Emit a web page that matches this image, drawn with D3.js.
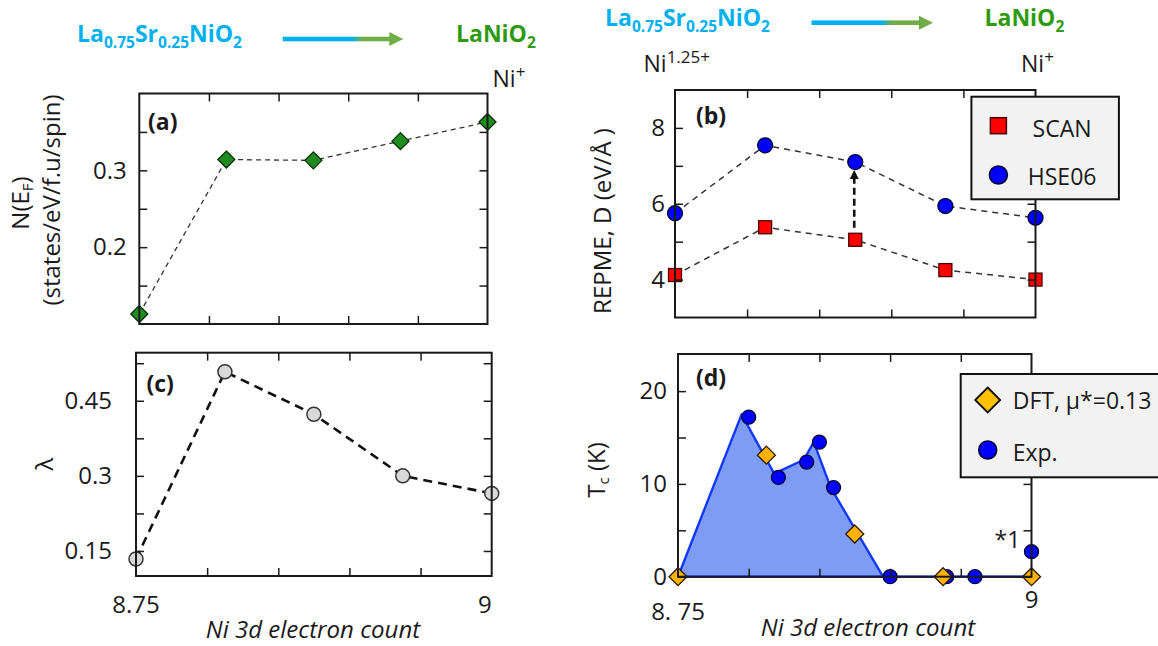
<!DOCTYPE html>
<html>
<head>
<meta charset="utf-8">
<script src="https://cdn.jsdelivr.net/npm/d3@7"></script>
<style>
  body { margin: 0; background: #fff; }
  svg { display: block; font-family: "Open Sans", sans-serif; }
</style>
</head>
<body>
<div id="chart"></div>
<script>
// values
const electronCount = [8.75, 8.8125, 8.875, 8.9375, 9];
const dosEF = [0.113, 0.314, 0.313, 0.338, 0.363];
const repmeSCAN = [4.12, 5.38, 5.05, 4.25, 4.0];
const repmeHSE = [5.75, 7.54, 7.1, 5.94, 5.63];
const lambdaVals = [0.134, 0.508, 0.423, 0.30, 0.265];
const tcDFT = [0, 13.1, 4.6, 0, 0];
const expCount = [8.80, 8.821, 8.841, 8.850, 8.860, 8.90, 8.94, 8.96, 9.0];
const tcExp = [17.2, 10.7, 12.35, 14.5, 9.6, 0, 0, 0, 2.7];
const domeCount = [8.75, 8.795, 8.818, 8.839, 8.846, 8.858, 8.895, 9.0];
const domeTc = [0, 17.5, 11.1, 12.6, 14.5, 9.6, 0, 0];
const xTicks = [8.8, 8.85, 8.9, 8.95];

const W = 1158, H = 646;
const ink = "#1a1a1a";

const svg = d3.select("#chart").append("svg")
  .attr("width", W)
  .attr("height", H);

const grad = svg.append("defs").append("linearGradient")
  .attr("id", "arrowGrad")
  .attr("x1", "0%").attr("x2", "100%").attr("y1", "0%").attr("y2", "0%");
grad.append("stop").attr("offset", 0.64).attr("stop-color", "#00b0f0");
grad.append("stop").attr("offset", 0.74).attr("stop-color", "#70ad47");

// ---------- header ----------
function formula(x, y, parts, color) {
  const t = svg.append("text")
    .attr("x", x).attr("y", y)
    .attr("fill", color)
    .attr("font-weight", 700)
    .attr("font-size", 23);
  let wasSub = false;
  parts.forEach(([s, sub]) => {
    const dy = sub && !wasSub ? 6 : (!sub && wasSub ? -6 : 0);
    t.append("tspan").attr("dy", dy).attr("font-size", sub ? 15.5 : 23).text(s);
    wasSub = sub;
  });
}
function arrow(x0, x1, y) {
  svg.append("rect")
    .attr("x", x0).attr("y", y - 2.3)
    .attr("width", x1 - x0 - 13).attr("height", 4.6)
    .attr("fill", "url(#arrowGrad)");
  svg.append("path")
    .attr("d", `M${x1 - 14},${y - 7}L${x1},${y}L${x1 - 14},${y + 7}Z`)
    .attr("fill", "#70ad47");
}
function ion(x, y, sup) {
  const t = svg.append("text").attr("x", x).attr("y", y).attr("font-size", 23).attr("fill", ink);
  t.append("tspan").text("Ni");
  t.append("tspan").attr("dy", -9).attr("font-size", 17).text(sup);
}
const doped = [["La", 0], ["0.75", 1], ["Sr", 0], ["0.25", 1], ["NiO", 0], ["2", 1]];
const parent = [["LaNiO", 0], ["2", 1]];

formula(77, 42, doped, "#00b0f0");
arrow(282.7, 403.3, 39);
formula(456, 42, parent, "#2e9a10");
formula(605, 26, doped, "#00b0f0");
arrow(811.5, 933, 22.7);
formula(984.5, 26, parent, "#2e9a10");
ion(492.5, 87, "+");
ion(643.5, 72, "1.25+");
ion(1021, 72, "+");

// ---------- panels ----------
function panel(px, py, yDomain) {
  return {
    x: d3.scaleLinear().domain([8.75, 9]).range(px),
    y: d3.scaleLinear().domain(yDomain).range([py[1], py[0]]),
    g: svg.append("g")
  };
}
function axes(p, yTicks, yLabels, pad) {
  const [x0, x1] = p.x.range();
  const [y1, y0] = p.y.range();
  const style = g => {
    g.select(".domain").remove();
    g.selectAll("line").attr("stroke", ink).attr("stroke-width", 1.5);
    g.selectAll("text").attr("fill", ink);
    g.attr("font-family", null).attr("font-size", 24);
  };
  const ax = p.g.append("g");
  ax.append("g").attr("transform", `translate(${x0},0)`)
    .call(d3.axisLeft(p.y).tickValues(yTicks).tickSize(-8).tickPadding(pad)
      .tickFormat(d => yLabels.includes(d) ? String(d) : ""))
    .call(style);
  ax.append("g").attr("transform", `translate(${x1},0)`)
    .call(d3.axisRight(p.y).tickValues(yTicks).tickSize(-8).tickFormat(""))
    .call(style);
  ax.append("g").attr("transform", `translate(0,${y0})`)
    .call(d3.axisTop(p.x).tickValues(xTicks).tickSize(-8).tickFormat(""))
    .call(style);
  ax.append("g").attr("transform", `translate(0,${y1})`)
    .call(d3.axisBottom(p.x).tickValues(xTicks).tickSize(-8).tickFormat(""))
    .call(style);
  ax.append("rect")
    .attr("x", x0).attr("y", y0)
    .attr("width", x1 - x0).attr("height", y1 - y0)
    .attr("fill", "none").attr("stroke", ink).attr("stroke-width", 2);
}
function tag(p, x, y, s) {
  p.g.append("text").attr("x", x).attr("y", y)
    .attr("font-size", 23).attr("font-weight", 700).attr("fill", ink).text(s);
}
function yTitle(x, y) {
  return svg.append("text")
    .attr("transform", `translate(${x},${y}) rotate(-90)`)
    .attr("text-anchor", "middle")
    .attr("font-size", 24)
    .attr("fill", ink);
}
const diamond = s => `M0,${-s}L${s},0L0,${s}L${-s},0Z`;
const pts = (xs, ys) => xs.map((v, i) => [v, ys[i]]);

// (a) N(EF)
const A = panel([139.3, 487.5], [93.5, 324], [0.1, 0.4]);
A.g.append("path")
  .attr("d", d3.line().x(d => A.x(d[0])).y(d => A.y(d[1]))(pts(electronCount, dosEF)))
  .attr("fill", "none").attr("stroke", "#333").attr("stroke-width", 1.3).attr("stroke-dasharray", "5,4");
A.g.selectAll(".dia").data(pts(electronCount, dosEF)).join("path")
  .attr("transform", d => `translate(${A.x(d[0])},${A.y(d[1])})`)
  .attr("d", diamond(8.5))
  .attr("fill", "#1e8c1e").attr("stroke", "#0b2e0b").attr("stroke-width", 1.3);
axes(A, [0.15, 0.2, 0.25, 0.3, 0.35], [0.2, 0.3], 12.6);
tag(A, 148, 130, "(a)");
const ta = yTitle(29, 203);
ta.append("tspan").text("N(E");
ta.append("tspan").attr("font-size", 15).attr("dy", 4).text("F");
ta.append("tspan").attr("dy", -4).text(")");
yTitle(60, 200).text("(states/eV/f.u/spin)");

// (b) REPME
const B = panel([675, 1035.5], [90, 317.5], [3, 9]);
const lineB = d3.line().x(d => B.x(d[0])).y(d => B.y(d[1]));
[repmeHSE, repmeSCAN].forEach(v => B.g.append("path")
  .attr("d", lineB(pts(electronCount, v)))
  .attr("fill", "none").attr("stroke", "#333").attr("stroke-width", 1.5).attr("stroke-dasharray", "6,5"));
const ax3 = B.x(electronCount[2]);
B.g.append("line")
  .attr("x1", ax3 - 1).attr("x2", ax3 - 1)
  .attr("y1", B.y(repmeSCAN[2]) - 12).attr("y2", B.y(repmeHSE[2]) + 16)
  .attr("stroke", "#111").attr("stroke-width", 2.6).attr("stroke-dasharray", "7,4");
B.g.append("path")
  .attr("transform", `translate(${ax3 - 1},${B.y(repmeHSE[2]) + 8})`)
  .attr("d", "M0,0L4.5,9L-4.5,9Z").attr("fill", "#111");
B.g.selectAll(".sq").data(pts(electronCount, repmeSCAN)).join("rect")
  .attr("x", d => B.x(d[0]) - 6.5).attr("y", d => B.y(d[1]) - 6.5)
  .attr("width", 13).attr("height", 13)
  .attr("fill", "#ff0000").attr("stroke", "#4a0000").attr("stroke-width", 1.3);
B.g.selectAll(".ci").data(pts(electronCount, repmeHSE)).join("circle")
  .attr("cx", d => B.x(d[0])).attr("cy", d => B.y(d[1])).attr("r", 7.5)
  .attr("fill", "#0000ff").attr("stroke", "#00002e").attr("stroke-width", 1.3);
axes(B, [4, 5, 6, 7, 8], [4, 6, 8], 10);
tag(B, 696, 124, "(b)");
yTitle(611, 221).text("REPME, D (eV/Å )");
// legend (b)
const lb = svg.append("g");
lb.append("rect").attr("x", 971.4).attr("y", 96.7).attr("width", 147.5).attr("height", 102.6)
  .attr("fill", "#f2f2f2").attr("stroke", "#111").attr("stroke-width", 2);
lb.append("rect").attr("x", 990.4).attr("y", 117.7).attr("width", 16).attr("height", 16)
  .attr("fill", "#ff0000").attr("stroke", "#4a0000").attr("stroke-width", 1.5);
lb.append("circle").attr("cx", 998.4).attr("cy", 175).attr("r", 9)
  .attr("fill", "#0000ff").attr("stroke", "#00002e").attr("stroke-width", 1.5);
lb.append("text").attr("x", 1032.6).attr("y", 136.7).attr("font-size", 23).attr("fill", ink).text("SCAN");
lb.append("text").attr("x", 1027.8).attr("y", 185).attr("font-size", 23).attr("fill", ink).text("HSE06");

// (c) lambda
const C = panel([136, 491.7], [352.7, 576], [0.1, 0.546]);
C.g.append("path")
  .attr("d", d3.line().x(d => C.x(d[0])).y(d => C.y(d[1]))(pts(electronCount, lambdaVals)))
  .attr("fill", "none").attr("stroke", "#111").attr("stroke-width", 2.6).attr("stroke-dasharray", "9,6");
C.g.selectAll(".ci").data(pts(electronCount, lambdaVals)).join("circle")
  .attr("cx", d => C.x(d[0])).attr("cy", d => C.y(d[1])).attr("r", 7)
  .attr("fill", "#d9d9d9").attr("stroke", "#333").attr("stroke-width", 1.5);
axes(C, [0.15, 0.225, 0.3, 0.375, 0.45, 0.525], [0.15, 0.3, 0.45], 24);
tag(C, 146.5, 392, "(c)");
yTitle(53, 464).text("λ");
C.g.append("text").attr("x", C.x(8.75)).attr("y", 613).attr("text-anchor", "middle")
  .attr("font-size", 24).attr("fill", ink).text("8.75");
C.g.append("text").attr("x", C.x(9)).attr("y", 613).attr("text-anchor", "end")
  .attr("font-size", 24).attr("fill", ink).text("9");
C.g.append("text").attr("x", 313).attr("y", 638).attr("text-anchor", "middle")
  .attr("font-size", 24).attr("font-style", "italic").attr("fill", ink).text("Ni 3d electron count");

// (d) Tc
const D = panel([678, 1031.5], [354, 576.7], [0, 24]);
D.g.append("path")
  .attr("d", d3.line().x(d => D.x(d[0])).y(d => D.y(d[1]))(pts(domeCount, domeTc)) + "Z")
  .attr("fill", "#7f9cf5").attr("stroke", "#1238ff").attr("stroke-width", 2.4).attr("stroke-linejoin", "round");
D.g.selectAll(".ci").data(pts(expCount, tcExp)).join("circle")
  .attr("cx", d => D.x(d[0])).attr("cy", d => D.y(d[1])).attr("r", 7)
  .attr("fill", "#0000ff").attr("stroke", "#00002e").attr("stroke-width", 1.3);
D.g.selectAll(".dia").data(pts(electronCount, tcDFT)).join("path")
  .attr("transform", d => `translate(${D.x(d[0])},${D.y(d[1])})`)
  .attr("d", diamond(9))
  .attr("fill", "#ffb300").attr("stroke", "#2a1a00").attr("stroke-width", 1.3);
axes(D, [0, 5, 10, 15, 20], [0, 10, 20], 11);
tag(D, 696, 386, "(d)");
const td = yTitle(605, 470);
td.append("tspan").text("T");
td.append("tspan").attr("font-size", 15).attr("dy", 4).text("c");
td.append("tspan").attr("dy", -4).text(" (K)");
D.g.append("text").attr("x", D.x(8.75)).attr("y", 620).attr("text-anchor", "middle")
  .attr("font-size", 24).attr("fill", ink).text("8. 75");
D.g.append("text").attr("x", D.x(9)).attr("y", 608).attr("text-anchor", "middle")
  .attr("font-size", 24).attr("fill", ink).text("9");
D.g.append("text").attr("x", 994.5).attr("y", 548)
  .attr("font-size", 23).attr("fill", ink).text("*1");
D.g.append("text").attr("x", 868).attr("y", 636).attr("text-anchor", "middle")
  .attr("font-size", 24).attr("font-style", "italic").attr("fill", ink).text("Ni 3d electron count");
// legend (d)
const ld = svg.append("g");
ld.append("rect").attr("x", 960.7).attr("y", 374).attr("width", 210).attr("height", 103.3)
  .attr("fill", "#f2f2f2").attr("stroke", "#111").attr("stroke-width", 2);
ld.append("path").attr("transform", "translate(987.7,400)").attr("d", diamond(12.5))
  .attr("fill", "#ffc000").attr("stroke", "#111").attr("stroke-width", 1.8);
ld.append("circle").attr("cx", 987.7).attr("cy", 450).attr("r", 9)
  .attr("fill", "#0000ff").attr("stroke", "#00002e").attr("stroke-width", 1.5);
ld.append("text").attr("x", 1012.7).attr("y", 409).attr("font-size", 23).attr("fill", ink).text("DFT, μ*=0.13");
ld.append("text").attr("x", 1012.7).attr("y", 460.5).attr("font-size", 23).attr("fill", ink).text("Exp.");
</script>
</body>
</html>
